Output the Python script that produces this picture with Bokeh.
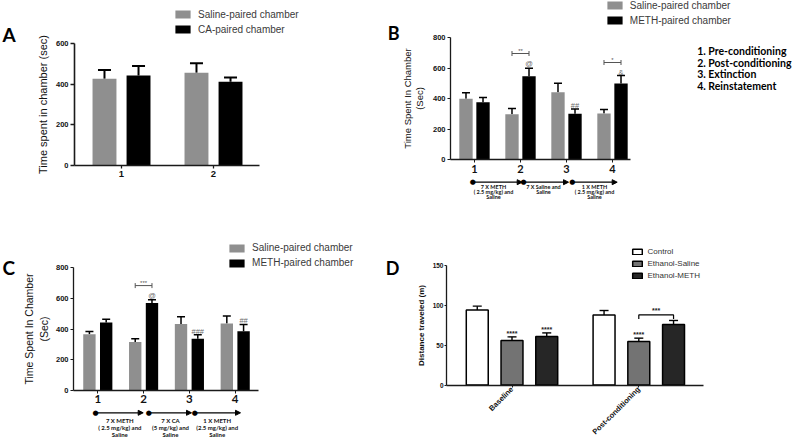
import math
import numpy as np
from bokeh.plotting import figure
from bokeh.layouts import column, row
from bokeh.models import (ColumnDataSource, Range1d, FixedTicker, Whisker, TeeHead, NormalHead,
                          Arrow, Label, LabelSet, Legend, LegendItem)
from bokeh.core.properties import value
from bokeh.embed import file_html
from bokeh.resources import INLINE

# ---------------- data ----------------
# Panel A
a_cats = ["1", "2"]
a_series = ["Saline-paired chamber", "CA-paired chamber"]
a_saline = [427, 457]
a_saline_sem = [44, 47]
a_ca = [443, 412]
a_ca_sem = [47, 22]
a_yticks = [0, 200, 400, 600]

# Panel B
b_cats = ["1", "2", "3", "4"]
b_series = ["Saline-paired chamber", "METH-paired chamber"]
b_saline = [400, 298, 443, 304]
b_saline_sem = [40, 39, 59, 26]
b_meth = [378, 548, 302, 500]
b_meth_sem = [30, 52, 31, 52]
b_yticks = [0, 200, 400, 600, 800]
b_phases = ["1.  Pre-conditioning", "2.  Post-conditioning", "3.  Extinction", "4.  Reinstatement"]
b_treat = [["7 X METH", "( 2.5 mg/kg) and", "Saline"],
           ["7 X Saline and", "Saline"],
           ["1 X METH", "( 2.5 mg/kg) and", "Saline"]]
b_sig_text = ["@", "##", "&"]
b_sig_group = [2, 3, 4]
b_sig_y = [631, 356, 574]
b_brk_group = [2, 4]
b_brk_y = [697, 638]
b_brk_text = ["**", "*"]

# Panel C
c_cats = ["1", "2", "3", "4"]
c_series = ["Saline-paired chamber", "METH-paired chamber"]
c_saline = [367, 316, 433, 437]
c_saline_sem = [17, 22, 48, 48]
c_meth = [444, 570, 338, 387]
c_meth_sem = [20, 21, 25, 44]
c_yticks = [0, 200, 400, 600, 800]
c_treat = [["7 X METH", "( 2.5 mg/kg) and", "Saline"],
           ["7 X CA", "(5 mg/kg) and", "Saline"],
           ["1 X METH", "(2.5 mg/kg) and", "Saline"]]
c_sig_text = ["@", "###", "##"]
c_sig_group = [2, 3, 4]
c_sig_y = [621, 387, 456]
c_brk_group = [2]
c_brk_y = [684]
c_brk_text = ["***"]

# Panel D
d_cats = ["Baseline", "Post-conditioning"]
d_series = ["Control", "Ethanol-Saline", "Ethanol-METH"]
d_control = [94, 88]
d_control_sem = [5, 5.5]
d_es = [56, 54.6]
d_es_sem = [4.4, 4.2]
d_em = [61, 76]
d_em_sem = [4.4, 5]
d_yticks = [0, 50, 100, 150]
d_star_series = [1, 2, 1]      # index into d_series
d_star_group = [1, 1, 2]
d_star_text = ["****", "****", "****"]
d_brk_group = [2]
d_brk_y = [88]
d_brk_text = ["***"]

# ---------------- layout helpers ----------------
GRAY = "#8f8f8f"
AX = "#1a1a1a"
SANS = "Liberation Sans"
COLW = [400, 400]
ROWH = [220, 218]


def xd(g, rx):
    return g["xr"][0] + (rx - g["rx0"]) / (g["rx1"] - g["rx0"]) * (g["xr"][1] - g["xr"][0])


def yd(g, ry):
    return g["yr"][0] + (g["ryb"] - ry) / (g["ryb"] - g["ryt"]) * (g["yr"][1] - g["yr"][0])


def make_panel(col, rw, rx0, rx1, ryt, ryb, xr, yr):
    ox = sum(COLW[:col])
    oy = sum(ROWH[:rw])
    w = COLW[col]
    h = ROWH[rw]
    g = dict(ox=ox, oy=oy, w=w, h=h, rx0=rx0, rx1=rx1, ryt=ryt, ryb=ryb, xr=xr, yr=yr)
    x_range = Range1d(xd(g, ox), xd(g, ox + w))
    y_range = Range1d(yd(g, oy + h), yd(g, oy))
    p = figure(width=w, height=h, x_range=x_range, y_range=y_range,
               output_backend="svg", toolbar_location=None, min_border=0,
               min_border_left=0, min_border_right=0, min_border_top=0, min_border_bottom=0)
    p.outline_line_color = None
    p.grid.visible = False
    p.background_fill_color = "white"
    p.border_fill_color = "white"
    p.xaxis.fixed_location = yr[0]
    p.xaxis.bounds = xr
    p.yaxis.fixed_location = xr[0]
    p.yaxis.bounds = yr
    return p, g


def scr(g, rx, ry):
    return rx - g["ox"], g["oy"] + g["h"] - ry


def style_axes(p, xcats, yticks, lw, ylabel, ylab_size, ylab_style="normal",
               ytick_size="7.5px", xtick_font=SANS, xtick_size="9.5px",
               x_standoff=3, y_standoff=2, ylab_standoff=4, ytick_out=3, line_h=1.2):
    xa = p.xaxis[0]
    ya = p.yaxis[0]
    for ax in (xa, ya):
        ax.axis_line_width = lw
        ax.axis_line_color = AX
        ax.major_tick_line_color = AX
        ax.major_tick_line_width = max(1, lw * 0.8)
        ax.major_tick_in = 0
        ax.minor_tick_line_color = None
        ax.major_label_text_color = "#111111"
        ax.major_label_text_font_style = "bold"
    xa.ticker = FixedTicker(ticks=list(range(1, len(xcats) + 1)))
    xa.major_label_overrides = {i + 1: c for i, c in enumerate(xcats)}
    xa.major_tick_out = 3
    xa.major_label_text_font = xtick_font
    xa.major_label_text_font_size = xtick_size
    xa.major_label_standoff = x_standoff
    ya.ticker = FixedTicker(ticks=yticks)
    ya.major_tick_out = ytick_out
    ya.major_label_text_font = SANS
    ya.major_label_text_font_size = ytick_size
    ya.major_label_standoff = y_standoff
    ya.axis_label = ylabel
    ya.axis_label_text_font = SANS
    ya.axis_label_text_font_size = ylab_size
    ya.axis_label_text_font_style = ylab_style
    ya.axis_label_text_color = "#111111"
    ya.axis_label_standoff = ylab_standoff
    ya.axis_label_text_line_height = line_h


def add_err(p, x, val, sem, cap, lw):
    val = np.asarray(val, dtype=float)
    src = ColumnDataSource(dict(x=list(x), lo=list(val), hi=list(val + np.asarray(sem))))
    p.add_layout(Whisker(source=src, base="x", lower="lo", upper="hi", dimension="height",
                         line_width=lw, line_color="black", lower_head=None,
                         upper_head=TeeHead(size=cap, line_width=lw, line_color="black")))


def add_legend(p, g, renderers, labels, rx, ry_bottom, gw, gh, lh, size, standoff, color):
    vx, vy = scr(g, rx, ry_bottom)
    leg = Legend(items=[LegendItem(label=l, renderers=[r]) for l, r in zip(labels, renderers)],
                 location=(vx, vy), orientation="vertical", glyph_width=gw, glyph_height=gh,
                 label_height=lh, label_text_font=SANS, label_text_font_size=size,
                 label_text_color=color, label_standoff=standoff, spacing=0, padding=0,
                 margin=0, border_line_color=None, background_fill_alpha=0)
    p.add_layout(leg)


def add_text(p, g, rx, ry, text, size, font=SANS, style="normal", color="black",
             align="left", baseline="middle"):
    x, y = scr(g, rx, ry)
    p.add_layout(Label(x=x, y=y, x_units="screen", y_units="screen", text=text,
                       text_font=font, text_font_size=size, text_font_style=style,
                       text_color=color, text_align=align, text_baseline=baseline))


def add_sig(p, xs, ys, texts, size, color, style="normal"):
    src = ColumnDataSource(dict(x=list(xs), y=list(ys), t=list(texts)))
    p.add_layout(LabelSet(x="x", y="y", text="t", source=src, text_align="center",
                          text_baseline="middle", text_font=value(SANS),
                          text_font_size=value(size), text_color=color,
                          text_font_style=style))


def add_timeline(p, g, ry_arrow, dots_rx, ends_rx, text_cx, lines_ry, blocks, size):
    ya = yd(g, ry_arrow)
    for d, e in zip(dots_rx, ends_rx):
        p.add_layout(Arrow(x_start=xd(g, d), y_start=ya, x_end=xd(g, e), y_end=ya,
                           line_width=1.3, line_color="black",
                           end=NormalHead(size=5, line_color="black", fill_color="black",
                                          line_width=1)))
        p.add_layout(Label(x=xd(g, d), y=ya, text="\u25cf", text_font="DejaVu Sans",
                           text_font_size="7px", text_align="center", text_baseline="middle",
                           text_color="black"))
    for cx, lines in zip(text_cx, blocks):
        for ln, ry in zip(lines, lines_ry):
            p.add_layout(Label(x=xd(g, cx), y=yd(g, ry), text=ln, text_font="Lato",
                               text_font_size=size, text_font_style="bold",
                               text_align="center", text_baseline="middle",
                               text_color="#111111"))


# ---------------- Panel A ----------------
pA, gA = make_panel(0, 0, 74, 259, 43.3, 164.7, (0.489, 2.5), (0, 600))
xA = np.arange(1, len(a_cats) + 1)
rA1 = pA.vbar(x=xA - 0.185, top=a_saline, width=0.26, fill_color=GRAY, line_color=None)
rA2 = pA.vbar(x=xA + 0.185, top=a_ca, width=0.26, fill_color="black", line_color=None)
add_err(pA, xA - 0.185, a_saline, a_saline_sem, 13, 2)
add_err(pA, xA + 0.185, a_ca, a_ca_sem, 13, 2)
style_axes(pA, a_cats, a_yticks, 1.6, "Time spent in chamber (sec)", "11px",
           ytick_size="7.5px", xtick_size="9.5px", x_standoff=3, y_standoff=2,
           ylab_standoff=4, ytick_out=4)
add_legend(pA, gA, [rA1, rA2], a_series, 173, 36.5, 19, 10, 15, "10px", 6, "#3a3a3a")
add_text(pA, gA, 2, 33.5, "A", "19px", font="Lato", style="bold")
add_text(pA, gA, 399, 32.5, "B", "18px", font="Lato", style="bold", align="right")

# ---------------- Panel B ----------------
pB, gB = make_panel(1, 0, 450, 630, 37.3, 159.3, (1 - 24 / 46, 4 + 18 / 46), (0, 800))
xB = np.arange(1, len(b_cats) + 1)
rB1 = pB.vbar(x=xB - 0.185, top=b_saline, width=0.29, fill_color=GRAY, line_color=None)
rB2 = pB.vbar(x=xB + 0.185, top=b_meth, width=0.29, fill_color="black", line_color=None)
add_err(pB, xB - 0.185, b_saline, b_saline_sem, 8, 1.5)
add_err(pB, xB + 0.185, b_meth, b_meth_sem, 8, 1.5)
style_axes(pB, b_cats, b_yticks, 1.3, "Time Spent In Chamber\n(Sec)", "9.5px",
           ytick_size="7.5px", xtick_font="Lato", xtick_size="11px", x_standoff=2,
           y_standoff=2, ylab_standoff=5, ytick_out=3, line_h=1.1)
add_legend(pB, gB, [rB1, rB2], b_series, 604.8, 27.5, 19, 10, 15, "10px", 6, "#3a3a3a")
for txt, ry in zip(b_phases, [50.7, 62.3, 73.3, 85]):
    add_text(pB, gB, 696.7, ry, txt, "10.5px", font="Lato", style="bold")
add_sig(pB, [g + 0.185 for g in b_sig_group], b_sig_y, b_sig_text, "7.5px", "#6a6a6a")
bsrc = ColumnDataSource(dict(y=b_brk_y, x0=[g - 0.185 for g in b_brk_group],
                             x1=[g + 0.185 for g in b_brk_group]))
pB.add_layout(Whisker(source=bsrc, base="y", lower="x0", upper="x1", dimension="width",
                      line_color="#555555", line_width=1,
                      lower_head=TeeHead(size=5, line_color="#555555", line_width=1),
                      upper_head=TeeHead(size=5, line_color="#555555", line_width=1)))
add_sig(pB, b_brk_group, [y + 18 for y in b_brk_y], b_brk_text, "6px", "#555555")
add_timeline(pB, gB, 181.7, [472.3, 523, 571.7], [521.7, 568, 616.7],
             [493, 543, 594], [186.5, 191.5, 196.5], b_treat, "5.5px")

# ---------------- Panel C ----------------
pC, gC = make_panel(0, 1, 73, 258, 267.3, 390, (1 - (97.3 - 73) / 45.8, 4 + (258 - 234.7) / 45.8), (0, 800))
xC = np.arange(1, len(c_cats) + 1)
rC1 = pC.vbar(x=xC - 0.183, top=c_saline, width=0.27, fill_color=GRAY, line_color=None)
rC2 = pC.vbar(x=xC + 0.183, top=c_meth, width=0.27, fill_color="black", line_color=None)
add_err(pC, xC - 0.183, c_saline, c_saline_sem, 8, 1.5)
add_err(pC, xC + 0.183, c_meth, c_meth_sem, 8, 1.5)
style_axes(pC, c_cats, c_yticks, 1.3, "Time Spent In Chamber\n(Sec)", "10.5px",
           ytick_size="7.5px", xtick_font="Lato", xtick_size="11.5px", x_standoff=1,
           y_standoff=2, ylab_standoff=3, ytick_out=3, line_h=1.25)
add_legend(pC, gC, [rC1, rC2], c_series, 227.1, 270, 19, 10, 15, "10px", 6, "#3a3a3a")
add_text(pC, gC, 2, 267, "C", "19px", font="Lato", style="bold")
add_text(pC, gC, 399, 267, "D", "18px", font="Lato", style="bold", align="right")
add_sig(pC, [g + 0.183 for g in c_sig_group], c_sig_y, c_sig_text, "7.5px", "#6a6a6a")
csrc = ColumnDataSource(dict(y=c_brk_y, x0=[g - 0.183 for g in c_brk_group],
                             x1=[g + 0.183 for g in c_brk_group]))
pC.add_layout(Whisker(source=csrc, base="y", lower="x0", upper="x1", dimension="width",
                      line_color="#555555", line_width=1,
                      lower_head=TeeHead(size=5, line_color="#555555", line_width=1),
                      upper_head=TeeHead(size=5, line_color="#555555", line_width=1)))
add_sig(pC, c_brk_group, [y + 18 for y in c_brk_y], c_brk_text, "6px", "#555555")
add_timeline(pC, gC, 412.3, [95, 148.3, 194.3], [142.7, 191, 240],
             [119.3, 170, 216.7], [419.5, 426.7, 433.8], c_treat, "6px")

# ---------------- Panel D ----------------
pD, gD = make_panel(1, 1, 446, 703, 265, 384.5,
                    (1 - (511.5 - 446) / 126.8, 2 + (703 - 638.3) / 126.8), (0, 150))
xD = np.arange(1, len(d_cats) + 1)
d_off = [-0.274, 0.0, 0.274]
d_vals = [d_control, d_es, d_em]
d_sems = [d_control_sem, d_es_sem, d_em_sem]
d_fill = ["white", "#737373", "#262626"]
rD = []
for off, vals, sems, fc in zip(d_off, d_vals, d_sems, d_fill):
    rD.append(pD.vbar(x=xD + off, top=vals, width=0.173, fill_color=fc,
                      line_color="black", line_width=1.5))
    add_err(pD, xD + off, vals, sems, 9, 1.4)
style_axes(pD, d_cats, d_yticks, 1.3, "Distance traveled (m)", "8px", ylab_style="bold",
           ytick_size="6.5px", xtick_size="7.5px", x_standoff=1, y_standoff=1,
           ylab_standoff=4, ytick_out=2)
pD.xaxis[0].major_label_orientation = math.pi / 4
pD.xaxis[0].major_tick_out = 2
add_legend(pD, gD, rD, d_series, 630.5, 281.5, 12, 7, 12, "8px", 5, "#333333")
sx = [g + d_off[s] for s, g in zip(d_star_series, d_star_group)]
sy = [d_vals[s][g - 1] + d_sems[s][g - 1] + 4.5 for s, g in zip(d_star_series, d_star_group)]
add_sig(pD, sx, sy, d_star_text, "7px", "#222222", style="bold")
dxs, dys = [], []
for g, y in zip(d_brk_group, d_brk_y):
    dxs.append([g + d_off[1], g + d_off[1], g + d_off[2], g + d_off[2]])
    dys.append([y - 5, y, y, y - 5])
pD.multi_line(xs=dxs, ys=dys, line_color="black", line_width=1.2)
add_sig(pD, [g + (d_off[1] + d_off[2]) / 2 for g in d_brk_group],
        [y + 5 for y in d_brk_y], d_brk_text, "7px", "#222222", style="bold")

layout = column(row(pA, pB), row(pC, pD))
open("out.html", "w").write(file_html(layout, INLINE))
